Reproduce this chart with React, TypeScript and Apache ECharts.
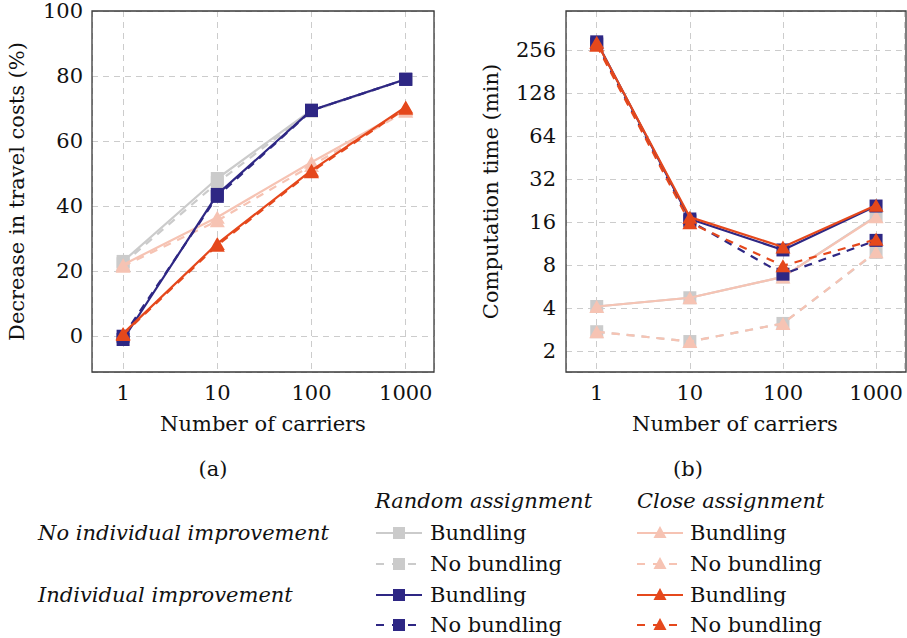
import React, { useEffect, useRef } from 'react';
import * as echarts from 'echarts';

// ---------- data ----------
const carriers = [1, 10, 100, 1000];
const xTickLabels = ['1', '10', '100', '1000'];
const costTickLabels = ['0', '20', '40', '60', '80', '100'];
const timeTickLabels = ['2', '4', '8', '16', '32', '64', '128', '256'];

// (a) Decrease in travel costs (%)
const costRandNoImpBund = [23, 48.5, 69.5, 79];
const costRandNoImpNoBund = [22.3, 47.2, 69.2, 79];
const costCloseNoImpBund = [22, 36.6, 53.5, 69.6];
const costCloseNoImpNoBund = [21.5, 35.5, 52.5, 69.2];
const costRandImpBund = [-1, 43.6, 69.5, 79];
const costRandImpNoBund = [0, 43, 69.4, 79];
const costCloseImpBund = [0.8, 28.5, 51, 70.5];
const costCloseImpNoBund = [0.5, 28, 50.6, 70.1];

// (b) Computation time (min)
const timeRandNoImpBund = [4.1, 4.72, 6.6, 17.6];
const timeRandNoImpNoBund = [2.73, 2.33, 3.12, 9.8];
const timeCloseNoImpBund = [4.1, 4.72, 6.6, 17.4];
const timeCloseNoImpNoBund = [2.73, 2.33, 3.12, 9.9];
const timeRandImpBund = [292, 16.8, 10.2, 20.7];
const timeRandImpNoBund = [282, 16.3, 6.9, 11.9];
const timeCloseImpBund = [290, 17.3, 10.7, 21];
const timeCloseImpNoBund = [276, 15.8, 7.9, 12.1];

const assignments = ['Random assignment', 'Close assignment'];
const improvements = ['No individual improvement', 'Individual improvement'];
const bundlings = ['Bundling', 'No bundling'];

// ---------- styles ----------
const GRAY = '#cbcbcb';
const PINK = '#f6c3b3';
const BLUE = '#2e2784';
const RED = '#e5481c';
const FONT = '"DejaVu Serif", "Liberation Serif", serif';
const FS = 21;
const DASH = [8, 7];

type Def = {
  assign: number;
  imp: number;
  bund: number;
  color: string;
  shape: 'rect' | 'triangle';
  cost: number[];
  time: number[];
};

const defs: Def[] = [
  { assign: 0, imp: 0, bund: 0, color: GRAY, shape: 'rect', cost: costRandNoImpBund, time: timeRandNoImpBund },
  { assign: 0, imp: 0, bund: 1, color: GRAY, shape: 'rect', cost: costRandNoImpNoBund, time: timeRandNoImpNoBund },
  { assign: 1, imp: 0, bund: 0, color: PINK, shape: 'triangle', cost: costCloseNoImpBund, time: timeCloseNoImpBund },
  { assign: 1, imp: 0, bund: 1, color: PINK, shape: 'triangle', cost: costCloseNoImpNoBund, time: timeCloseNoImpNoBund },
  { assign: 0, imp: 1, bund: 0, color: BLUE, shape: 'rect', cost: costRandImpBund, time: timeRandImpBund },
  { assign: 0, imp: 1, bund: 1, color: BLUE, shape: 'rect', cost: costRandImpNoBund, time: timeRandImpNoBund },
  { assign: 1, imp: 1, bund: 0, color: RED, shape: 'triangle', cost: costCloseImpBund, time: timeCloseImpBund },
  { assign: 1, imp: 1, bund: 1, color: RED, shape: 'triangle', cost: costCloseImpNoBund, time: timeCloseImpNoBund },
];

const isPow = (v: number, base: number, lo: number, hi: number) => {
  const l = Math.log(v) / Math.log(base);
  const r = Math.round(l);
  return Math.abs(l - r) < 1e-6 && r >= lo && r <= hi ? r : null;
};

const grids = [
  { left: 92, top: 11, width: 342, height: 361 },
  { left: 566, top: 11, width: 340, height: 361 },
];

function buildOption() {
  const gridLine = { show: true, lineStyle: { color: '#cccccc', width: 1, type: [6, 5] } };
  const labelStyle = { fontFamily: FONT, fontSize: FS, color: '#111' };
  const nameStyle = { fontFamily: FONT, fontSize: FS, color: '#111' };

  const xAxis = [0, 1].map((g) => ({
    type: 'log',
    logBase: 10,
    gridIndex: g,
    min: Math.pow(10, -0.33),
    max: Math.pow(10, 3.3),
    axisLine: { show: false },
    axisTick: { show: false },
    splitLine: gridLine,
    axisLabel: {
      ...labelStyle,
      margin: 10,
      formatter: (v: number) => {
        const r = isPow(v, 10, 0, 3);
        return r === null ? '' : xTickLabels[r];
      },
    },
    name: 'Number of carriers',
    nameLocation: 'middle',
    nameGap: 41,
    nameTextStyle: nameStyle,
  }));

  const yAxis = [
    {
      type: 'value',
      gridIndex: 0,
      min: -11,
      max: 100,
      splitNumber: 5,
      axisLine: { show: false },
      axisTick: { show: false },
      splitLine: gridLine,
      axisLabel: {
        ...labelStyle,
        margin: 9,
        formatter: (v: number) => {
          const i = Math.round(v / 20);
          return Math.abs(v - i * 20) < 1e-6 && i >= 0 && i <= 5 ? costTickLabels[i] : '';
        },
      },
      name: 'Decrease in travel costs (%)',
      nameLocation: 'middle',
      nameGap: 65,
      nameTextStyle: nameStyle,
    },
    {
      type: 'log',
      logBase: 2,
      gridIndex: 1,
      min: Math.pow(2, 0.512),
      max: Math.pow(2, 8.907),
      axisLine: { show: false },
      axisTick: { show: false },
      splitLine: gridLine,
      axisLabel: {
        ...labelStyle,
        margin: 10,
        formatter: (v: number) => {
          const r = isPow(v, 2, 1, 8);
          return r === null ? '' : timeTickLabels[r - 1];
        },
      },
      name: 'Computation time (min)',
      nameLocation: 'middle',
      nameGap: 65,
      nameTextStyle: nameStyle,
    },
  ];

  const series: any[] = [];
  [0, 1].forEach((g) => {
    defs.forEach((d, k) => {
      const vals = g === 0 ? d.cost : d.time;
      series.push({
        type: 'line',
        name: `${assignments[d.assign]} / ${improvements[d.imp]} / ${bundlings[d.bund]}`,
        xAxisIndex: g,
        yAxisIndex: g,
        data: carriers.map((c, i) => [c, vals[i]]),
        symbol: d.shape,
        symbolSize: d.shape === 'rect' ? 13 : [15, 13],
        showSymbol: true,
        lineStyle: { color: d.color, width: 2.2, type: d.bund === 1 ? DASH : 'solid' },
        itemStyle: { color: d.color },
        emphasis: { disabled: true },
        z: 2 + k * 0.01,
        silent: true,
      });
    });
  });

  // ---------- frames + legend table as graphics ----------
  const graphic: any[] = [];
  grids.forEach((g) => {
    graphic.push({
      type: 'rect',
      z: 100,
      silent: true,
      shape: { x: g.left, y: g.top, width: g.width, height: g.height },
      style: { fill: 'none', stroke: '#3a3a3a', lineWidth: 1.3 },
    });
  });

  const txt = (text: string, x: number, y: number, italic: boolean, align = 'left') => ({
    type: 'text',
    x,
    y,
    style: {
      text,
      font: `${italic ? 'italic ' : ''}${FS}px ${FONT}`,
      fill: '#111',
      textAlign: align,
      textVerticalAlign: 'middle',
    },
  });
  graphic.push(txt('(a)', 213, 469, false, 'center'));
  graphic.push(txt('(b)', 688, 469, false, 'center'));

  const colLine0 = [376, 637];
  const colLine1 = [422, 683];
  const colText = [430, 690];
  const rowY = [533, 564, 595, 625];
  graphic.push(txt(assignments[0], 375, 501, true));
  graphic.push(txt(assignments[1], 637, 501, true));
  graphic.push(txt(improvements[0], 38, 533, true));
  graphic.push(txt(improvements[1], 38, 595, true));

  defs.forEach((d) => {
    const y = rowY[d.imp * 2 + d.bund];
    const x0 = colLine0[d.assign];
    const x1 = colLine1[d.assign];
    const cx = (x0 + x1) / 2;
    graphic.push({
      type: 'line',
      shape: { x1: x0, y1: y, x2: x1, y2: y },
      style: { stroke: d.color, lineWidth: 2.2, lineDash: d.bund === 1 ? [8, 8] : null },
    });
    if (d.shape === 'rect') {
      graphic.push({
        type: 'rect',
        shape: { x: cx - 6, y: y - 6, width: 12, height: 12 },
        style: { fill: d.color },
      });
    } else {
      graphic.push({
        type: 'polygon',
        shape: { points: [[cx, y - 7], [cx + 6.5, y + 5], [cx - 6.5, y + 5]] },
        style: { fill: d.color },
      });
    }
    graphic.push(txt(bundlings[d.bund], colText[d.assign], y, false));
  });

  return {
    animation: false,
    backgroundColor: '#ffffff',
    grid: grids.map((g) => ({ ...g, show: false })),
    xAxis,
    yAxis,
    series,
    graphic,
  };
}

export default function App() {
  const ref = useRef<HTMLDivElement>(null);
  useEffect(() => {
    if (!ref.current) return;
    const chart = echarts.init(ref.current, undefined, { renderer: 'svg' });
    chart.setOption(buildOption() as any);
    return () => chart.dispose();
  }, []);
  return (
    <div
      ref={ref}
      style={{ position: 'absolute', left: 0, top: 0, width: 907, height: 638, background: '#fff' }}
    />
  );
}
